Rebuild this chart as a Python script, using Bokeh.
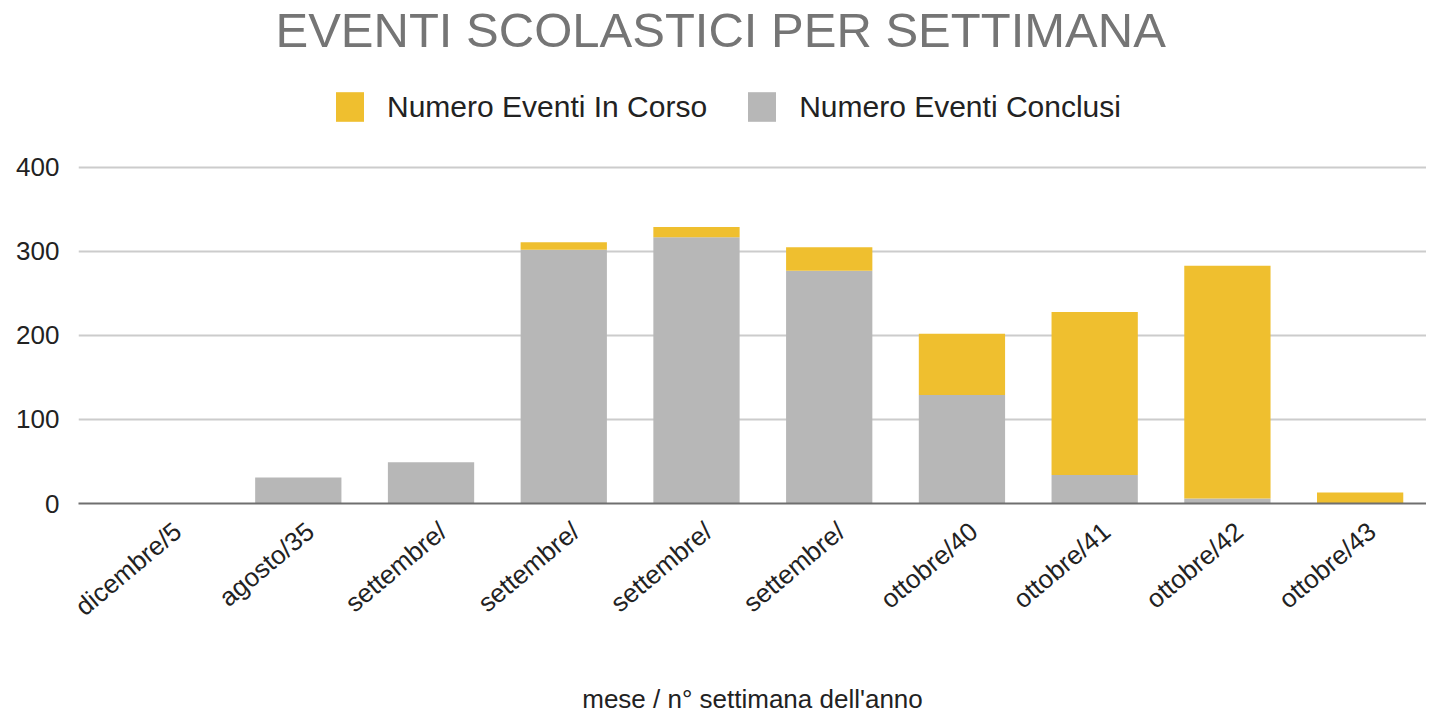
from bokeh.plotting import figure
from bokeh.models import (Range1d, Legend, LegendItem, Title, ColumnDataSource, FixedTicker)
from bokeh.embed import file_html
from bokeh.resources import INLINE
import math

# ---- data ----
tick_labels = ["dicembre/5", "agosto/35", "settembre/", "settembre/", "settembre/",
               "settembre/", "ottobre/40", "ottobre/41", "ottobre/42", "ottobre/43"]
conclusi = [0, 31, 49, 302, 317, 277, 129, 34, 6, 0]
in_corso = [0, 0, 0, 9, 12, 28, 73, 194, 277, 13]
series_names = ["Numero Eventi In Corso", "Numero Eventi Conclusi"]
colors = {"in_corso": "#efbf2f", "conclusi": "#b7b7b7"}
title_text = "EVENTI SCOLASTICI PER SETTIMANA"
x_title = "mese / n° settimana dell'anno"
y_ticks = [0, 100, 200, 300, 400]

FONT = "Liberation Sans"

pos = list(range(len(tick_labels)))
src = ColumnDataSource(dict(x=pos, conclusi=conclusi, in_corso=in_corso))

p = figure(x_range=Range1d(-0.656, 9.50),
           y_range=Range1d(0, 532),
           frame_width=1348, frame_height=447,
           output_backend="svg", toolbar_location=None,
           min_border_left=78, min_border_right=0, min_border_top=0, min_border_bottom=0)

p.title = Title(text=title_text, text_font=FONT, text_font_size="49px",
                text_font_style="normal", text_color="#757575", align="left",
                offset=197, standoff=0)

rs = p.vbar_stack(["conclusi", "in_corso"], x="x", width=0.65, source=src,
                  color=[colors["conclusi"], colors["in_corso"]], line_width=0)

legend = Legend(items=[LegendItem(label=series_names[0], renderers=[rs[1]]),
                       LegendItem(label=series_names[1], renderers=[rs[0]])],
                orientation="horizontal", location=(254, 378),
                glyph_width=35, glyph_height=37, label_standoff=20, spacing=37,
                label_text_font=FONT, label_text_font_size="30px",
                label_text_color="#222222", border_line_color=None,
                background_fill_alpha=0, padding=0, margin=0)
p.add_layout(legend, "center")

p.xgrid.grid_line_color = None
p.ygrid.grid_line_color = "#cccccc"
p.ygrid.grid_line_width = 2
p.yaxis.ticker = FixedTicker(ticks=y_ticks)
p.yaxis.axis_line_color = None
p.yaxis.major_tick_line_color = None
p.yaxis.minor_tick_line_color = None
p.yaxis.major_label_text_font = FONT
p.yaxis.major_label_text_font_size = "26px"
p.yaxis.major_label_text_color = "#222222"
p.yaxis.major_label_standoff = 13

# labels are anchored slightly right of each bar centre, as in the reference
label_shift = 0.09
label_pos = [round(i + label_shift, 2) for i in pos]
p.xaxis.ticker = FixedTicker(ticks=label_pos)
p.xaxis.major_label_overrides = {t: lab for t, lab in zip(label_pos, tick_labels)}
p.xaxis.axis_line_color = "#6f6f6f"
p.xaxis.axis_line_width = 2
p.xaxis.major_tick_line_color = None
p.xaxis.minor_tick_line_color = None
p.xaxis.major_label_orientation = math.radians(40)
p.xaxis.major_label_text_font = FONT
p.xaxis.major_label_text_font_size = "26px"
p.xaxis.major_label_text_color = "#222222"
p.xaxis.major_label_standoff = 18
p.xaxis.axis_label = x_title
p.xaxis.axis_label_text_font = FONT
p.xaxis.axis_label_text_font_size = "26px"
p.xaxis.axis_label_text_font_style = "normal"
p.xaxis.axis_label_text_color = "#222222"
p.xaxis.axis_label_standoff = 48

p.outline_line_color = None

open("out.html", "w").write(file_html(p, INLINE))
